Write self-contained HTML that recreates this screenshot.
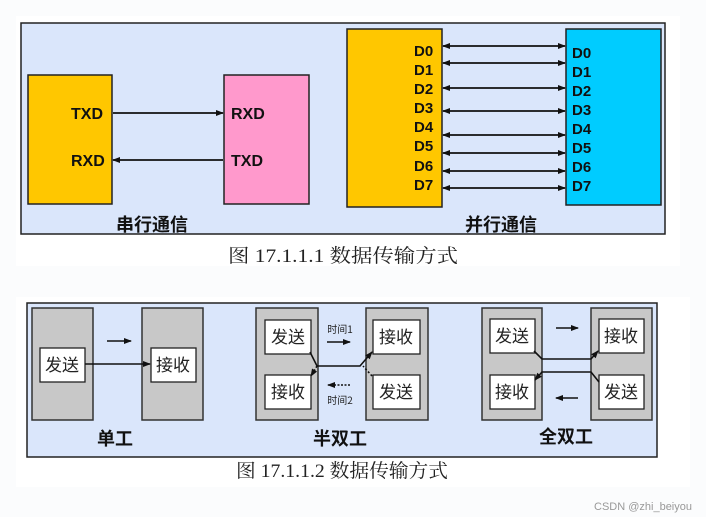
<!DOCTYPE html>
<html><head><meta charset="utf-8"><style>
html,body{margin:0;padding:0;background:#fff;}
svg{display:block;}
text{font-family:"Liberation Sans","Noto Sans CJK SC",sans-serif;}
.b{font-weight:bold;font-size:15px;fill:#111;}
.cj{font-family:"Noto Sans CJK SC",sans-serif;font-size:15px;fill:#222;}
.cap{font-family:"Liberation Serif","Noto Serif CJK SC",serif;font-size:19px;fill:#222;}
</style></head><body>
<svg width="706" height="517" viewBox="0 0 706 517" xmlns="http://www.w3.org/2000/svg">
<defs>
<marker id="a" markerWidth="8" markerHeight="8" refX="7" refY="4" orient="auto-start-reverse" markerUnits="userSpaceOnUse"><path d="M0,1 L8,4 L0,7 Z" fill="#111"/></marker>
</defs>
<rect x="0" y="0" width="706" height="517" fill="#fbfcfd"/>
<rect x="16" y="16" width="664" height="250" fill="#fff"/>
<rect x="21" y="23" width="644" height="211" fill="#dae6fb" stroke="#222" stroke-width="1.5"/>
<!-- serial -->
<rect x="28" y="75" width="84" height="129" fill="#ffc700" stroke="#222" stroke-width="1.5"/>
<rect x="224" y="75" width="85" height="129" fill="#ff99cc" stroke="#222" stroke-width="1.5"/>
<text x="71" y="119" class="b" style="font-size:16px">TXD</text>
<text x="71" y="166" class="b" style="font-size:16px">RXD</text>
<text x="231" y="119" class="b" style="font-size:16px">RXD</text>
<text x="231" y="166" class="b" style="font-size:16px">TXD</text>
<line x1="113" y1="113" x2="223" y2="113" stroke="#111" stroke-width="1.8" marker-end="url(#a)"/>
<line x1="223" y1="160" x2="113" y2="160" stroke="#111" stroke-width="1.8" marker-end="url(#a)"/>
<text x="116" y="231" class="cj" style="font-size:18px;font-weight:bold;fill:#111">串行通信</text>
<!-- parallel -->
<rect x="347" y="29" width="95" height="178" fill="#ffc700" stroke="#222" stroke-width="1.5"/>
<rect x="566" y="29" width="95" height="176" fill="#00ccff" stroke="#222" stroke-width="1.5"/>
<g class="b">
<text x="414" y="56">D0</text><text x="414" y="75">D1</text><text x="414" y="94">D2</text><text x="414" y="113">D3</text>
<text x="414" y="132">D4</text><text x="414" y="151">D5</text><text x="414" y="171">D6</text><text x="414" y="190">D7</text>
<text x="572" y="58">D0</text><text x="572" y="77">D1</text><text x="572" y="96">D2</text><text x="572" y="115">D3</text>
<text x="572" y="134">D4</text><text x="572" y="153">D5</text><text x="572" y="172">D6</text><text x="572" y="191">D7</text>
</g>
<g stroke="#111" stroke-width="1.8" marker-start="url(#a)" marker-end="url(#a)">
<line x1="443" y1="46" x2="565" y2="46"/><line x1="443" y1="63" x2="565" y2="63"/>
<line x1="443" y1="88" x2="565" y2="88"/><line x1="443" y1="111" x2="565" y2="111"/>
<line x1="443" y1="135" x2="565" y2="135"/><line x1="443" y1="153" x2="565" y2="153"/>
<line x1="443" y1="171" x2="565" y2="171"/><line x1="443" y1="188" x2="565" y2="188"/>
</g>
<text x="465" y="231" class="cj" style="font-size:18px;font-weight:bold;fill:#111">并行通信</text>
<text x="228" y="262" class="cap" textLength="230" lengthAdjust="spacingAndGlyphs">图 17.1.1.1 数据传输方式</text>
<!-- bottom -->
<rect x="16" y="297" width="674" height="190" fill="#fff"/>
<rect x="27" y="303" width="630" height="154" fill="#dae6fb" stroke="#222" stroke-width="1.5"/>
<g fill="#c8c8c8" stroke="#333" stroke-width="1.5">
<rect x="32" y="308" width="61" height="112"/><rect x="142" y="308" width="61" height="112"/>
<rect x="256" y="308" width="62" height="112"/><rect x="366" y="308" width="62" height="112"/>
<rect x="482" y="308" width="60" height="112"/><rect x="591" y="308" width="61" height="112"/>
</g>
<g fill="#fff" stroke="#222" stroke-width="1.3">
<rect x="40" y="348" width="45" height="34"/><rect x="151" y="348" width="45" height="34"/>
<rect x="265" y="320" width="46" height="34"/><rect x="265" y="375" width="46" height="34"/>
<rect x="373" y="320" width="47" height="34"/><rect x="373" y="375" width="47" height="34"/>
<rect x="490" y="319" width="45" height="34"/><rect x="490" y="375" width="45" height="34"/>
<rect x="599" y="319" width="45" height="34"/><rect x="599" y="375" width="45" height="34"/>
</g>
<g class="cj" style="font-size:17px" text-anchor="middle">
<text x="62" y="371">发送</text><text x="173" y="371">接收</text>
<text x="288" y="343">发送</text><text x="288" y="398">接收</text>
<text x="396" y="343">接收</text><text x="396" y="398">发送</text>
<text x="512" y="342">发送</text><text x="512" y="398">接收</text>
<text x="621" y="342">接收</text><text x="621" y="398">发送</text>
</g>
<g stroke="#111" stroke-width="1.6" fill="none">
<line x1="107" y1="341" x2="131" y2="341" marker-end="url(#a)"/>
<line x1="85" y1="364" x2="150" y2="364" marker-end="url(#a)"/>
<line x1="327" y1="342" x2="350" y2="342" marker-end="url(#a)"/>
<line x1="350" y1="385" x2="328" y2="385" stroke-dasharray="2,1.5" marker-end="url(#a)"/>
<path d="M310,352 L317,366 L360,366 L372,352" marker-end="url(#a)"/>
<path d="M372,376 L363,366" stroke-dasharray="2,2"/>
<path d="M317,366 L311,376" stroke-dasharray="2,2" marker-end="url(#a)"/>
<line x1="556" y1="328" x2="578" y2="328" marker-end="url(#a)"/>
<line x1="578" y1="398" x2="556" y2="398" marker-end="url(#a)"/>
<path d="M534,351 L542,359 L591,359 L598,351" marker-end="url(#a)"/>
<path d="M599,382 L591,372 L542,372 L535,380" marker-end="url(#a)"/>
</g>
<text x="340" y="333" class="cj" style="font-size:10px" text-anchor="middle">时间1</text>
<text x="340" y="404" class="cj" style="font-size:10px" text-anchor="middle">时间2</text>
<g class="cj" style="font-size:18px;font-weight:bold;fill:#111" text-anchor="middle">
<text x="115" y="445">单工</text><text x="340" y="445">半双工</text><text x="566" y="443">全双工</text>
</g>
<text x="236" y="477" class="cap" textLength="212" lengthAdjust="spacingAndGlyphs">图 17.1.1.2 数据传输方式</text>
<text x="692" y="510" font-size="11" fill="#999" text-anchor="end">CSDN @zhi_beiyou</text>
</svg>
</body></html>
